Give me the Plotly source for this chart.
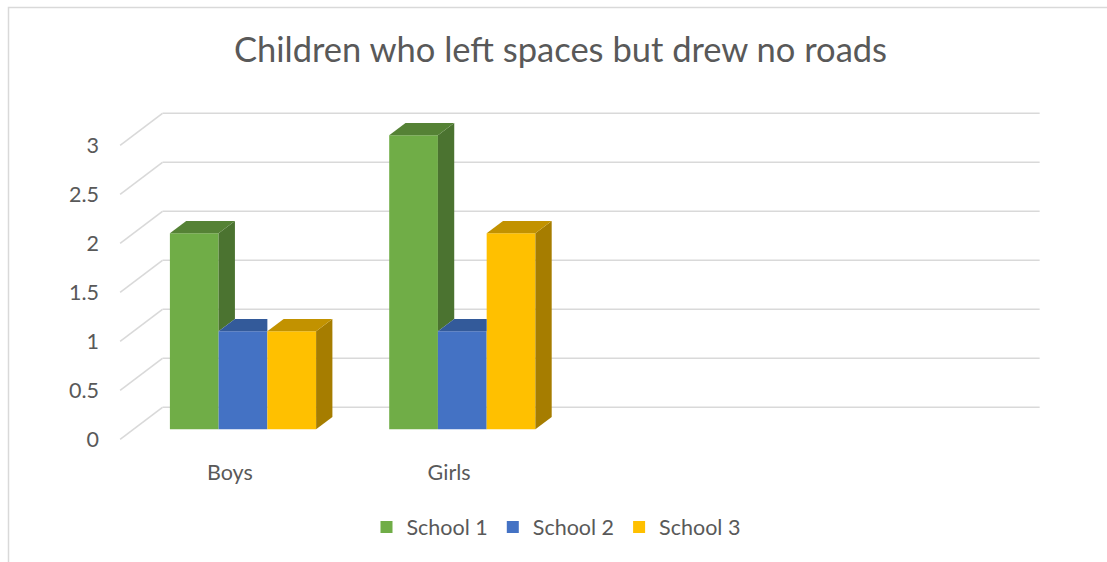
import plotly.graph_objects as go

# ---------------- data ----------------
categories = ["Boys", "Girls"]
school_1 = [2, 3]
school_2 = [1, 1]
school_3 = [1, 2]
series_names = ["School 1", "School 2", "School 3"]
y_tick_values = [0, 0.5, 1, 1.5, 2, 2.5, 3]
y_tick_text = ["0", "0.5", "1", "1.5", "2", "2.5", "3"]
title_text = "Children who left spaces but drew no roads"

# ---------------- style / layout ----------------
series_values = [school_1, school_2, school_3]
front_colors = ["#70AD47", "#4472C4", "#FFC000"]
side_colors = ["#4B7330", "#2E4D85", "#A67D00"]
top_colors = ["#558235", "#335A9A", "#C29200"]
grid_color = "#D9D9D9"
text_color = "#595959"
FONT = "Lato"

W, H = 1107, 562
N_SLOTS = 4          # category slots on the axis (two are empty)
GAP = 1.5            # gap width relative to bar width
CAT_PX = 219.3       # pixel width of one category slot
X_LEFT_PX = 133.35   # pixel of left edge of the bar plane
Y_ZERO_PX = 429.3    # pixel of value 0 on the bar plane
UNIT_PX = 98.0       # pixels per value unit

PL, PR, PT, PB = 100, 1060, 100, 450   # plot-area pixel box

x_range = [-0.5 + (PL - X_LEFT_PX) / CAT_PX, -0.5 + (PR - X_LEFT_PX) / CAT_PX]
y_range = [(Y_ZERO_PX - PB) / UNIT_PX, (Y_ZERO_PX - PT) / UNIT_PX]

# depth offsets (data units)
FX, FY = -13.2 / CAT_PX, -10.0 / UNIT_PX   # front edge of floor
BX, BY = 29.1 / CAT_PX, 22.0 / UNIT_PX     # back wall
DX, DY = 16.3 / CAT_PX, 12.3 / UNIT_PX     # bar depth

n_series = len(series_values)
bw = 1.0 / (n_series + GAP)

fig = go.Figure()

# front faces as real bars
for j, (name, vals) in enumerate(zip(series_names, series_values)):
    xs = [i + (j - (n_series - 1) / 2) * bw for i in range(len(categories))]
    fig.add_trace(go.Bar(
        x=xs, y=vals, width=bw, name=name,
        marker=dict(color=front_colors[j], line=dict(width=0)),
        hovertext=[categories[i] for i in range(len(categories))],
        xaxis="x", yaxis="y",
    ))


def poly(points, color):
    xs = [p[0] for p in points] + [points[0][0]]
    ys = [p[1] for p in points] + [points[0][1]]
    fig.add_trace(go.Scatter(
        x=xs, y=ys, mode="lines", fill="toself", fillcolor=color,
        line=dict(width=0, color=color), hoverinfo="skip", showlegend=False,
        xaxis="x", yaxis="y",
    ))


# 3-D side and top faces derived from the values
for i in range(len(categories)):
    for j in range(n_series):
        v = series_values[j][i]
        vn = series_values[j + 1][i] if j + 1 < n_series else None
        xc = i + (j - (n_series - 1) / 2) * bw
        xl, xr = xc - bw / 2, xc + bw / 2
        # side face (visible part)
        if vn is None:
            poly([(xr, 0), (xr + DX, DY), (xr + DX, v + DY), (xr, v)], side_colors[j])
        elif vn < v:
            poly([(xr, vn), (xr + DX, vn + DY), (xr + DX, v + DY), (xr, v)], side_colors[j])
        # top face
        if vn is None or vn < v:
            poly([(xl, v), (xr, v), (xr + DX, v + DY), (xl + DX, v + DY)], top_colors[j])
        else:
            poly([(xl, v), (xr, v), (xr, v + DY), (xl + DX, v + DY)], top_colors[j])

# gridlines: left wall diagonals + back wall lines
shapes = []
x_lo, x_hi = -0.5, N_SLOTS - 0.5
for t in y_tick_values:
    shapes.append(dict(type="line", xref="x", yref="y", layer="below",
                       x0=x_lo + FX, y0=t + FY, x1=x_lo + BX, y1=t + BY,
                       line=dict(color=grid_color, width=1.6)))
    shapes.append(dict(type="line", xref="x", yref="y", layer="below",
                       x0=x_lo + BX, y0=t + BY, x1=x_hi + BX, y1=t + BY,
                       line=dict(color=grid_color, width=1.6)))

# chart-area border (left and top visible)
pw, ph = PR - PL, PB - PT
shapes.append(dict(type="rect", xref="paper", yref="paper", layer="below",
                   x0=(8.5 - PL) / pw, x1=(W + 20 - PL) / pw,
                   y0=(PB - (H + 20)) / ph, y1=(PB - 7.5) / ph,
                   line=dict(color=grid_color, width=1.5), fillcolor="rgba(0,0,0,0)"))

fig.update_layout(
    width=W, height=H, autosize=False,
    margin=dict(l=PL, r=W - PR, t=PT, b=H - PB, pad=0),
    paper_bgcolor="white", plot_bgcolor="white",
    barmode="overlay",
    shapes=shapes,
    title=dict(text=title_text, x=560.5 / W, xanchor="center", xref="container",
               y=1 - 50 / H, yanchor="middle", yref="container",
               font=dict(family=FONT, size=34.5, color=text_color)),
    xaxis=dict(range=x_range, tickvals=[i + FX for i in range(len(categories))],
               ticktext=categories, showgrid=False, zeroline=False, showline=False,
               ticks="", tickfont=dict(family=FONT, size=21.5, color=text_color),
               ticklabelstandoff=7, fixedrange=True),
    yaxis=dict(range=y_range, showgrid=False, zeroline=False, showline=False,
               showticklabels=False, ticks="", fixedrange=True),
    yaxis2=dict(range=[y_range[0] - FY, y_range[1] - FY], overlaying="y", side="left",
                tickvals=y_tick_values, ticktext=y_tick_text, showgrid=False,
                zeroline=False, showline=False, ticks="",
                tickfont=dict(family=FONT, size=21.5, color=text_color), fixedrange=True),
    legend=dict(orientation="h", x=(556 - PL) / pw, xanchor="center",
                y=(PB - 527) / ph, yanchor="middle", bgcolor="rgba(0,0,0,0)",
                font=dict(family=FONT, size=21.5, color=text_color)),
    showlegend=True,
)
# dummy trace to activate yaxis2 tick labels
fig.add_trace(go.Scatter(x=[None], y=[None], xaxis="x", yaxis="y2", showlegend=False,
                         hoverinfo="skip"))

fig.write_html("out.html", config={"displayModeBar": False},
               post_script="document.body.style.margin='0px';")
